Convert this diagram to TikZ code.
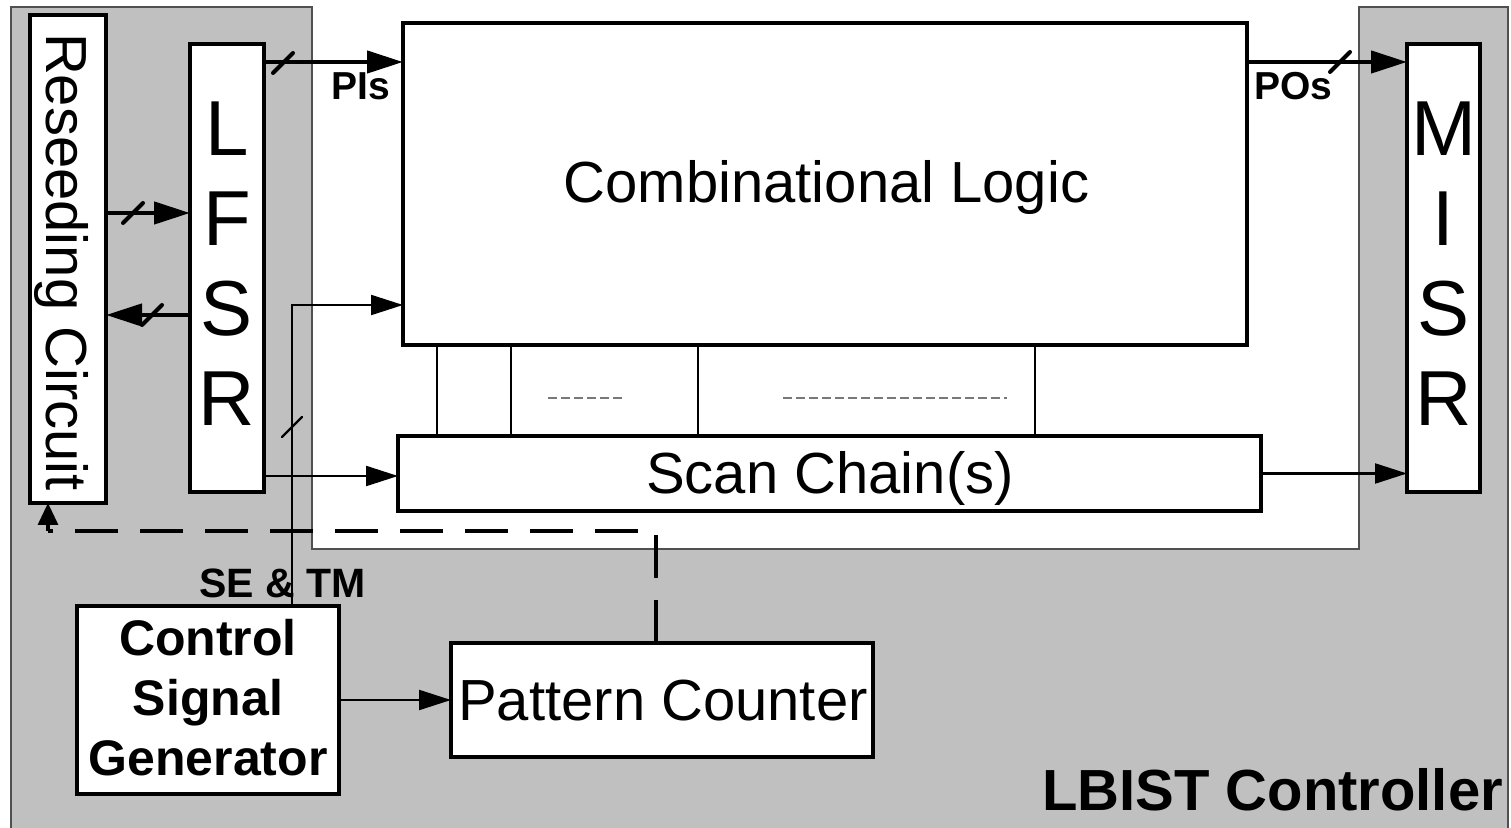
\documentclass[tikz,border=0pt]{standalone}
\usepackage{fontspec}
\setmainfont{Liberation Sans}
\usetikzlibrary{arrows.meta,calc}
\definecolor{ctrlgray}{RGB}{192,192,192}
\definecolor{edgegray}{RGB}{80,80,80}
\definecolor{hintgray}{RGB}{120,120,120}

\begin{document}
\begin{tikzpicture}[x=0.5pt,y=-0.5pt,
  block/.style={draw, line width=2.2pt, fill=white, rectangle, inner sep=0pt, outer sep=0pt},
  txt/.style={inner sep=0pt, outer sep=0pt, anchor=base},
  plainfont/.style={font=\fontsize{29}{35}\selectfont},
  regfont/.style={font=\fontsize{39}{45}\selectfont},
  busarrow/.style={line width=2.2pt, -{Triangle[length=18pt,width=11pt]}},
  sigarrow/.style={line width=1.1pt, -{Triangle[length=16pt,width=10pt]}},
  smallarrow/.style={line width=1.6pt, -{Triangle[length=11pt,width=10pt]}},
  dashline/.style={line width=2.4pt, dash pattern=on 21.5pt off 11pt},
  hintdash/.style={draw=hintgray, line width=0.7pt, dash pattern=on 4.5pt off 2pt},
  busmark/.pic={\draw[line cap=round] (-10,10) -- (10,-10);}
]
\useasboundingbox (0,0) rectangle (1511,828);

% controller area with the notch that holds the circuit under test
\path[fill=ctrlgray, draw=edgegray, line width=0.6pt]
  (11,832) -- (11,7) -- (312,7) -- (312,549) -- (1359,549) -- (1359,7) -- (1508,7) -- (1508,832);

% blocks
\node[block, minimum width=38pt, minimum height=244pt] (res) at (68,259) {};
\node[block, minimum width=37pt, minimum height=224pt] (lfsr) at (227,268) {};
\node[block, minimum width=422pt, minimum height=161pt] (cl) at (825,184) {};
\node[block, minimum width=431.5pt, minimum height=37.5pt] (sc) at (829.5,473.5) {};
\node[block, minimum width=36.5pt, minimum height=224pt] (misr) at (1443.5,268) {};
\node[block, minimum width=131pt, minimum height=94pt] (csg) at (208,700) {};
\node[block, minimum width=211pt, minimum height=57pt] (pc) at (662,700) {};

% block labels
\node[txt, plainfont, rotate=-90] (res-label) at (47,262) {Reseeding Circuit};
\node[regfont, align=center, inner sep=0pt] (lfsr-label) at (227,263.5) {L\\F\\S\\R};
\node[regfont, align=center, inner sep=0pt] (misr-label) at (1443.5,263.5) {M\\I\\S\\R};
\node[txt, plainfont] (cl-label) at (826.5,203) {Combinational Logic};
\node[txt, plainfont] (sc-label) at (830,494) {Scan Chain(s)};
\node[txt, plainfont] (pc-label) at (663,720) {Pattern Counter};
\node[align=center, inner sep=0pt, font=\fontsize{25}{30}\bfseries\selectfont] (csg-label) at (208,697.5)
  {Control\\Signal\\Generator};
\node[txt, font=\fontsize{29}{35}\bfseries\selectfont] (ctrl-label) at (1272.5,810) {LBIST Controller};

% scan cells between the logic and the chains
\foreach \dx [count=\i] in {34,108,295,632}
  \coordinate (tap\i) at ($(cl.south west)+(\dx,0)$);
\foreach \i in {1,...,4}
  \draw[line width=0.6pt] (tap\i) -- (tap\i |- sc.north);
\draw[hintdash] (548,398) -- (622,398);
\draw[hintdash] (783,398) -- (1007,398);

% primary inputs / outputs
\coordinate (pi-start) at ($(lfsr.north east)+(0,18)$);
\draw[busarrow] (pi-start) -- (pi-start -| cl.west);
\pic[line width=2pt] at ($(pi-start)+(19,1)$) {busmark};
\node[txt, font=\fontsize{19.5}{23}\bfseries\selectfont] (pi-label) at (361,100) {PIs};

\coordinate (po-end) at ($(misr.north west)+(0,18)$);
\draw[busarrow] (po-end -| cl.east) -- (po-end);
\pic[line width=2pt] at ($(po-end)+(-67,0)$) {busmark};
\node[txt, font=\fontsize{19.5}{23}\bfseries\selectfont] (po-label) at (1293.5,100) {POs};

% reseeding buses
\coordinate (seed-in) at ($(res.north east)+(0,198)$);
\draw[busarrow] (seed-in) -- (seed-in -| lfsr.west);
\pic[line width=2pt] at ($(seed-in)+(27,0)$) {busmark};

\coordinate (seed-out) at ($(lfsr.north west)+(0,271)$);
\draw[busarrow] (seed-out) -- (seed-out -| res.east);
\pic[line width=2pt] at ($(seed-out)+(-38,0)$) {busmark};

% scan path
\coordinate (scan-in) at ($(lfsr.south east)+(0,-16)$);
\draw[sigarrow] (scan-in) -- (scan-in -| sc.west);
\draw[sigarrow] (sc.east) -- (sc.east -| misr.west);

% control signals
\node[txt, font=\fontsize{20.5}{25}\bfseries\selectfont] (se-label) at (282.5,597) {SE \& TM};
\coordinate (se-root) at ($(csg.north west)+(215,0)$);
\coordinate (se-end) at ($(cl.north west)+(0,282)$);
\draw[sigarrow] (se-root) |- (se-end);
\pic[line width=1.1pt] at ($(se-root)+(0,-179)$) {busmark};

\draw[sigarrow] (csg.east) -- (pc.west);

% pattern counter feedback to the reseeding circuit
\coordinate (pc-top) at ($(pc.north west)+(205,0)$);
\coordinate (res-foot) at ($(res.south west)+(18,0)$);
\coordinate (feed-corner) at ($(res-foot)+(0,28)$);
\draw[dashline] (pc-top) |- (feed-corner);
\draw[smallarrow] (feed-corner) -- (res-foot);
\end{tikzpicture}
\end{document}
